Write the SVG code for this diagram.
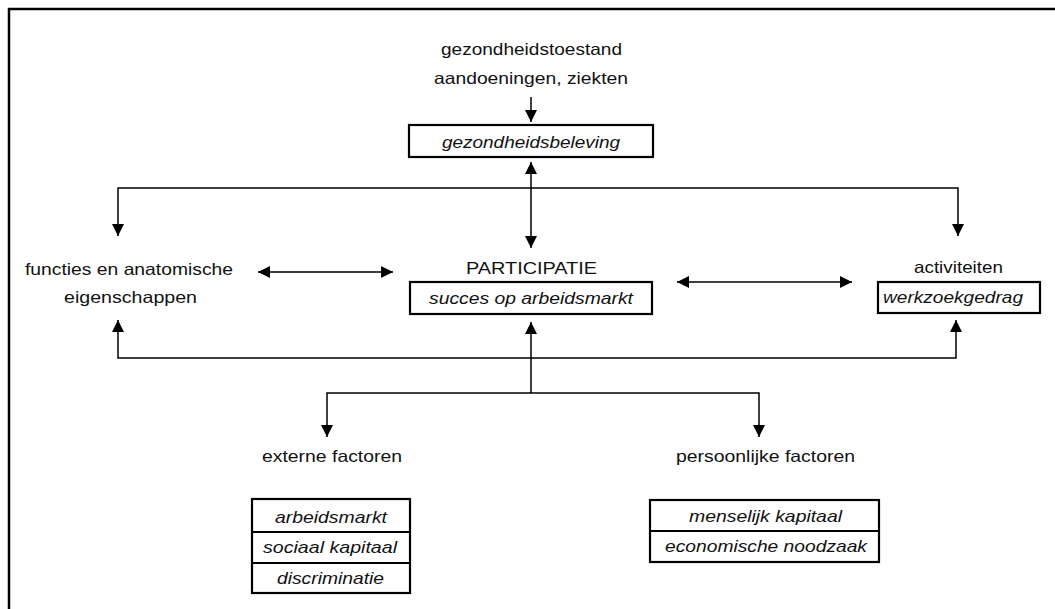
<svg xmlns="http://www.w3.org/2000/svg" width="1055" height="609" viewBox="0 0 1055 609">
<style>
text{font-family:"Liberation Sans",Arial,sans-serif;font-size:16.5px;fill:#111;text-anchor:middle}
.it{font-style:italic}
.box{fill:#fff;stroke:#000;stroke-width:2.2}
.ln{fill:none;stroke:#000;stroke-width:1.5}
.arr{marker-end:url(#ah)}
.dbl{marker-start:url(#ah);marker-end:url(#ah)}
</style>
<defs>
<marker id="ah" markerUnits="userSpaceOnUse" markerWidth="12" markerHeight="12" refX="12" refY="6" orient="auto-start-reverse">
<path d="M0,0 L12,6 L0,12 z" fill="#000"/>
</marker>
</defs>
<rect width="1055" height="609" fill="#fff"/>
<path d="M9,609 V9 H1055" fill="none" stroke="#000" stroke-width="2.5"/>

<g id="connectors">
<path class="ln arr" d="M531,97 V122"/>
<path class="ln dbl" d="M531,162 V248"/>
<path class="ln dbl" d="M118,236 V188 H958 V236"/>
<path class="ln dbl" d="M258,272 H393"/>
<path class="ln dbl" d="M677,282 H852"/>
<path class="ln dbl" d="M118,320 V358 H956 V320"/>
<path class="ln arr" d="M531,393 V322"/>
<path class="ln dbl" d="M327,437 V393 H759 V437"/>
</g>

<g id="gezondheidstoestand">
<text x="531.5" y="55" textLength="181" lengthAdjust="spacingAndGlyphs">gezondheidstoestand</text>
<text x="531" y="84" textLength="194" lengthAdjust="spacingAndGlyphs">aandoeningen, ziekten</text>
</g>
<g id="gezondheidsbeleving">
<rect class="box" x="409" y="125" width="244" height="32"/>
<text class="it" x="531" y="148" textLength="178" lengthAdjust="spacingAndGlyphs">gezondheidsbeleving</text>
</g>
<g id="functies">
<text x="129" y="275" textLength="208" lengthAdjust="spacingAndGlyphs">functies en anatomische</text>
<text x="130.5" y="303" textLength="133" lengthAdjust="spacingAndGlyphs">eigenschappen</text>
</g>
<g id="participatie">
<text x="531.5" y="274" textLength="131" lengthAdjust="spacingAndGlyphs">PARTICIPATIE</text>
<rect class="box" x="410" y="282" width="242" height="32"/>
<text class="it" x="531" y="304" textLength="204" lengthAdjust="spacingAndGlyphs">succes op arbeidsmarkt</text>
</g>
<g id="activiteiten">
<text x="958.5" y="273" textLength="89" lengthAdjust="spacingAndGlyphs">activiteiten</text>
<rect class="box" x="878" y="282" width="162" height="31"/>
<text class="it" x="953" y="303" textLength="140" lengthAdjust="spacingAndGlyphs">werkzoekgedrag</text>
</g>
<g id="externe">
<text x="332" y="462" textLength="140" lengthAdjust="spacingAndGlyphs">externe factoren</text>
<rect class="box" x="252" y="499" width="158" height="94"/>
<line class="box" x1="252" y1="532" x2="410" y2="532"/>
<line class="box" x1="252" y1="563" x2="410" y2="563"/>
<text class="it" x="331" y="523" textLength="112" lengthAdjust="spacingAndGlyphs">arbeidsmarkt</text>
<text class="it" x="330" y="553" textLength="134" lengthAdjust="spacingAndGlyphs">sociaal kapitaal</text>
<text class="it" x="330.5" y="584" textLength="107" lengthAdjust="spacingAndGlyphs">discriminatie</text>
</g>
<g id="persoonlijke">
<text x="765.5" y="462" textLength="179" lengthAdjust="spacingAndGlyphs">persoonlijke factoren</text>
<rect class="box" x="650" y="500" width="229" height="62"/>
<line class="box" x1="650" y1="531" x2="879" y2="531"/>
<text class="it" x="765.5" y="522" textLength="153" lengthAdjust="spacingAndGlyphs">menselijk kapitaal</text>
<text class="it" x="766" y="552" textLength="202" lengthAdjust="spacingAndGlyphs">economische noodzaak</text>
</g>
</svg>
